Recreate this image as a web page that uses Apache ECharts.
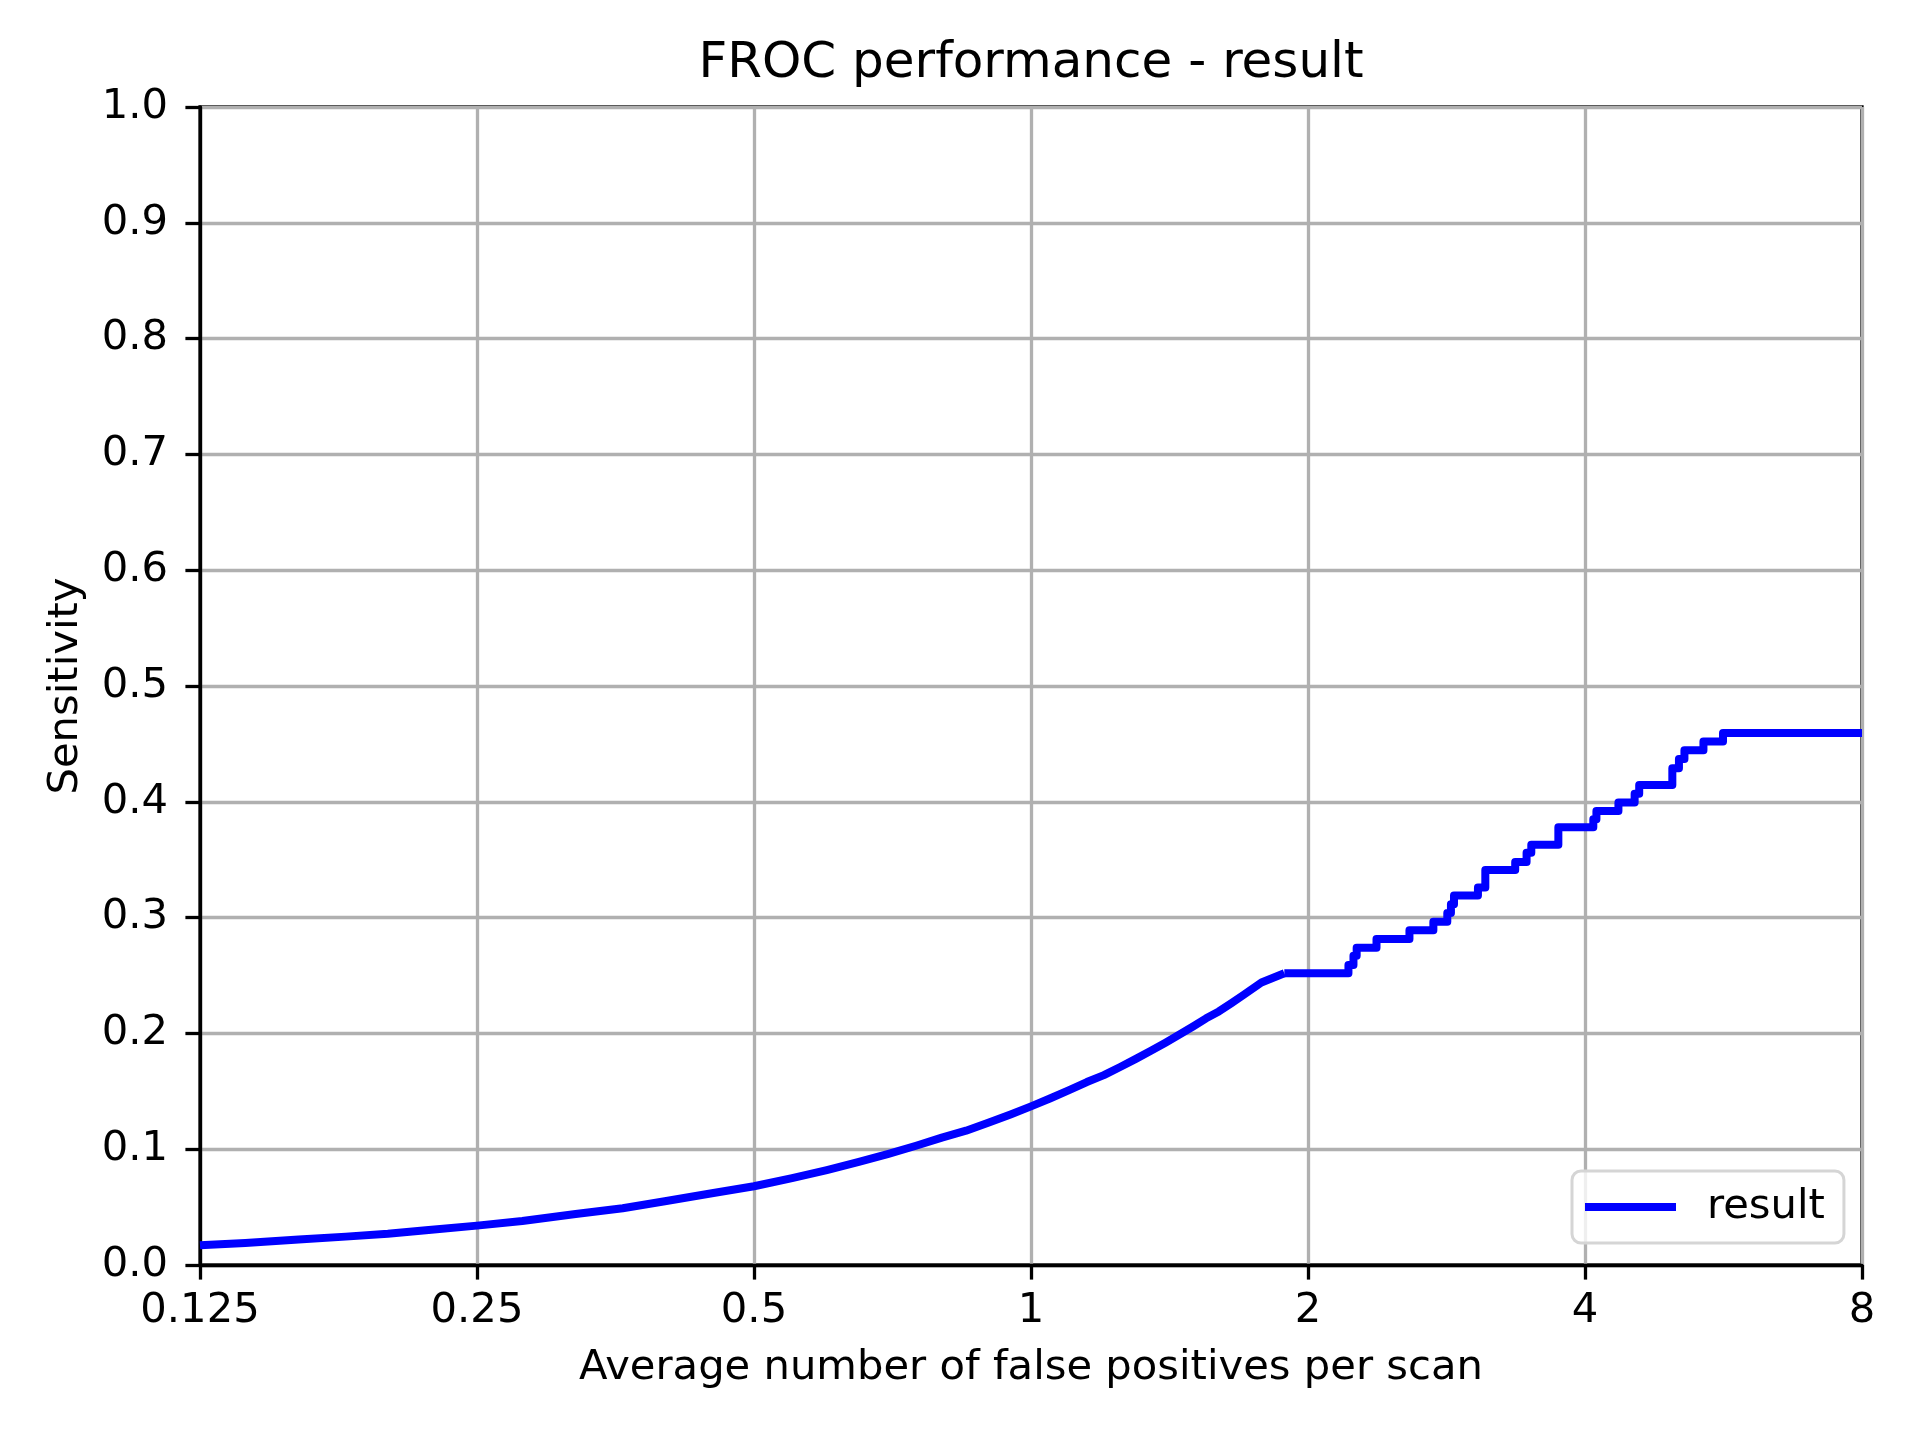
<!DOCTYPE html>
<html>
<head>
<meta charset="utf-8">
<title>FROC performance - result</title>
<script src="https://cdn.jsdelivr.net/npm/echarts@6/dist/echarts.min.js"></script>
<style>
  html, body { margin: 0; padding: 0; background: #fff; }
  #froc { width: 1920px; height: 1440px; }
</style>
</head>
<body>
<div id="froc"></div>
<script>
// smooth part of the curve (fp per scan, sensitivity)
const curveFp = [0.125, 0.14, 0.16, 0.18, 0.2, 0.22, 0.25, 0.28, 0.32, 0.36, 0.4, 0.45, 0.5, 0.55, 0.6, 0.65, 0.7, 0.75, 0.8, 0.85, 0.9, 0.95, 1.0, 1.05, 1.1, 1.15, 1.2, 1.25, 1.3, 1.35, 1.4, 1.45, 1.5, 1.55, 1.6, 1.65, 1.7, 1.78, 1.885];
const curveSens = [0.017, 0.019, 0.022, 0.0245, 0.027, 0.030, 0.034, 0.038, 0.044, 0.049, 0.055, 0.062, 0.068, 0.075, 0.082, 0.089, 0.096, 0.103, 0.110, 0.116, 0.123, 0.130, 0.137, 0.144, 0.151, 0.158, 0.164, 0.171, 0.178, 0.185, 0.192, 0.199, 0.206, 0.213, 0.219, 0.226, 0.233, 0.244, 0.252];

// staircase part: fp where each level starts, and the level
const stepFp = [1.885, 2.213, 2.241, 2.259, 2.374, 2.578, 2.737, 2.834, 2.860, 2.882, 3.060, 3.117, 3.359, 3.456, 3.497, 3.742, 4.084, 4.116, 4.349, 4.529, 4.581, 4.977, 5.06, 5.13, 5.38, 5.65, 8];
const stepSens = [0.252, 0.259, 0.267, 0.274, 0.2816, 0.289, 0.2965, 0.304, 0.3115, 0.319, 0.326, 0.341, 0.348, 0.356, 0.363, 0.378, 0.385, 0.392, 0.3995, 0.407, 0.4144, 0.429, 0.437, 0.4445, 0.452, 0.4595, 0.4595];

const xTicks = [0.125, 0.25, 0.5, 1, 2, 4, 8];
const yTicks = [0, 0.1, 0.2, 0.3, 0.4, 0.5, 0.6, 0.7, 0.8, 0.9, 1.0];

const FONT = 'DejaVu Sans';
const LINE_W = 8;
const chart = echarts.init(document.getElementById('froc'), null, {renderer: 'canvas'});

const gridLine = {show: true, lineStyle: {color: '#b0b0b0', width: 3.3}};
const blackLine = {show: true, lineStyle: {color: '#000', width: 3.3}};

chart.setOption({
    animation: false,
    backgroundColor: '#fff',
    title: {
        text: 'FROC performance - result',
        left: 1031,
        top: 39,
        padding: 0,
        textAlign: 'center',
        textStyle: {fontFamily: FONT, fontSize: 50, fontWeight: 'normal', color: '#000'}
    },
    grid: {
        left: 200, right: 58, top: 107, bottom: 175,
        show: true, borderColor: '#000', borderWidth: 3.3, backgroundColor: 'transparent'
    },
    legend: {
        data: ['result'],
        left: 1572,
        top: 1171,
        orient: 'vertical',
        icon: 'rect',
        itemWidth: 91,
        itemHeight: LINE_W,
        padding: [15, 19, 15, 13],
        backgroundColor: 'rgba(255,255,255,0.8)',
        borderColor: '#d5d5d5',
        borderWidth: 3,
        borderRadius: 9,
        textStyle: {fontFamily: FONT, fontSize: 41.7, color: '#000', padding: [0, 0, 0, 26]}
    },
    xAxis: {
        type: 'log',
        logBase: 2,
        min: xTicks[0],
        max: xTicks[xTicks.length - 1],
        splitNumber: xTicks.length - 1,
        name: 'Average number of false positives per scan',
        nameLocation: 'middle',
        nameGap: 82,
        nameTextStyle: {fontFamily: FONT, fontSize: 41.7, color: '#000'},
        axisLine: {show: true, onZero: false, lineStyle: {color: '#000', width: 3.3}},
        axisTick: {show: true, length: 14.6, lineStyle: {color: '#000', width: 3.3}},
        axisLabel: {
            margin: 25,
            fontFamily: FONT, fontSize: 41.7, color: '#000',
            formatter: v => String(+(+v).toPrecision(6))
        },
        splitLine: gridLine
    },
    yAxis: {
        type: 'value',
        min: yTicks[0],
        max: yTicks[yTicks.length - 1],
        interval: 0.1,
        name: 'Sensitivity',
        nameLocation: 'middle',
        nameGap: 113,
        nameRotate: 90,
        nameTextStyle: {fontFamily: FONT, fontSize: 41.7, color: '#000'},
        axisLine: blackLine,
        axisTick: {show: true, length: 14.6, lineStyle: {color: '#000', width: 3.3}},
        axisLabel: {
            margin: 32,
            fontFamily: FONT, fontSize: 41.7, color: '#000',
            formatter: v => v.toFixed(1)
        },
        splitLine: gridLine
    },
    series: [
        {
            name: 'result',
            type: 'line',
            showSymbol: false,
            color: '#0000ff',
            lineStyle: {color: '#0000ff', width: LINE_W, join: 'round'},
            data: curveFp.map((x, i) => [x, curveSens[i]]),
            z: 5
        },
        {
            name: 'result',
            type: 'line',
            showSymbol: false,
            step: 'end',
            color: '#0000ff',
            lineStyle: {color: '#0000ff', width: LINE_W, join: 'round'},
            data: stepFp.map((x, i) => [x, stepSens[i]]),
            z: 5
        }
    ]
});
</script>
</body>
</html>
